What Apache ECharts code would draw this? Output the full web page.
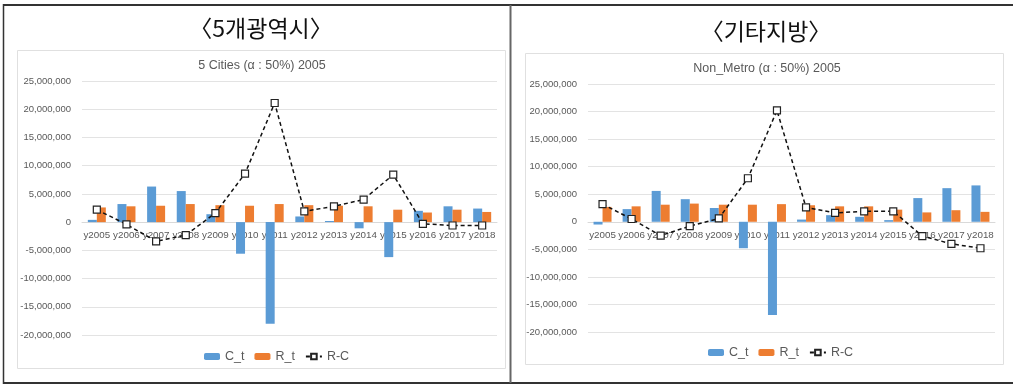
<!DOCTYPE html>
<html>
<head>
<meta charset="utf-8">
<script src="https://cdn.jsdelivr.net/npm/echarts@6/dist/echarts.min.js"></script>
<style>
html,body{margin:0;padding:0;background:#fff;}
#c{width:1013px;height:385px;}
</style>
</head>
<body>
<div id="c"></div>
<script>
const categories = ['y2005','y2006','y2007','y2008','y2009','y2010','y2011','y2012','y2013','y2014','y2015','y2016','y2017','y2018'];
const cityC = [0.4, 3.2, 6.3, 5.5, 1.4, -5.6, -18.0, 1.0, 0.2, -1.1, -6.2, 2.0, 2.8, 2.4];
const cityR = [2.6, 2.8, 2.9, 3.2, 3.0, 2.9, 3.2, 3.0, 2.9, 2.8, 2.2, 1.7, 2.2, 1.8];
const cityRC = [2.2, -0.4, -3.4, -2.3, 1.6, 8.6, 21.1, 1.9, 2.8, 4.0, 8.4, -0.3, -0.6, -0.6];
const nonC = [-0.5, 2.3, 5.6, 4.1, 2.5, -4.8, -16.9, 0.4, 1.2, 0.9, 0.3, 4.3, 6.1, 6.6];
const nonR = [2.7, 2.8, 3.1, 3.3, 3.1, 3.1, 3.2, 3.0, 2.8, 2.8, 2.2, 1.7, 2.1, 1.8];
const nonRC = [3.2, 0.5, -2.5, -0.8, 0.6, 7.9, 20.2, 2.6, 1.6, 1.9, 1.9, -2.6, -4.0, -4.8];
const headerTitles = ['〈5개광역시〉', '〈기타지방〉'];
const chartTitles = ['5 Cities (α : 50%) 2005', 'Non_Metro (α : 50%) 2005'];
const seriesNames = ['C_t', 'R_t', 'R-C'];

const M = 1000000;
const toVal = a => a.map(v => Math.round(v * M));
const fmt = v => v.toLocaleString('en-US');
const grey = '#595959';
const blue = '#5B9BD5', orange = '#ED7D31';
const font = "'Liberation Sans', Arial, sans-serif";

function yAx(i) {
  return {
    type: 'value', gridIndex: i, min: -20000000, max: 25000000, interval: 5000000,
    axisLabel: { formatter: fmt, color: grey, fontSize: 9.5, fontFamily: font, margin: 11 },
    splitLine: { lineStyle: { color: '#e3e3e3', width: 1 } },
    axisLine: { show: false }, axisTick: { show: false }
  };
}
function xAx(i, off) {
  return {
    type: 'category', gridIndex: i, data: categories, position: 'bottom', offset: off,
    axisLine: { onZero: false, lineStyle: { color: '#d9d9d9' } },
    axisTick: { show: false },
    axisLabel: { color: grey, fontSize: 9.8, fontFamily: font, margin: 8, interval: 0 }
  };
}
function ser(i, c, r, rc) {
  return [
    { name: seriesNames[0], type: 'bar', xAxisIndex: i, yAxisIndex: i, data: toVal(c), barWidth: 9, barGap: '0%',
      itemStyle: { color: blue }, z: 2 },
    { name: seriesNames[1], type: 'bar', xAxisIndex: i, yAxisIndex: i, data: toVal(r), barWidth: 9, barGap: '0%',
      itemStyle: { color: orange }, z: 2 },
    { name: seriesNames[2], type: 'line', xAxisIndex: i, yAxisIndex: i, data: toVal(rc),
      symbol: 'rect', symbolSize: 7, showAllSymbol: true,
      lineStyle: { color: '#111', width: 1.5, type: [4, 3] },
      itemStyle: { color: '#fff', borderColor: '#222', borderWidth: 1.2 }, z: 5 }
  ];
}

const chart = echarts.init(document.getElementById('c'), null, { renderer: 'canvas' });
chart.setOption({
  animation: false,
  backgroundColor: '#fff',
  title: [
    { text: headerTitles[0], left: 256, top: 12, textAlign: 'center',
      textStyle: { fontSize: 23, fontWeight: 'normal', color: '#111', fontFamily: 'Noto Sans CJK KR' } },
    { text: headerTitles[1], left: 761, top: 15, textAlign: 'center',
      textStyle: { fontSize: 23, fontWeight: 'normal', color: '#111', fontFamily: 'Noto Sans CJK KR' } },
    { text: chartTitles[0], left: 257, top: 54, textAlign: 'center',
      textStyle: { fontSize: 12.5, fontWeight: 'normal', color: grey, fontFamily: font } },
    { text: chartTitles[1], left: 762, top: 57, textAlign: 'center',
      textStyle: { fontSize: 12.5, fontWeight: 'normal', color: grey, fontFamily: font } }
  ],
  legend: [
    { data: seriesNames, left: 199, top: 345, itemWidth: 16, itemHeight: 7, itemGap: 10,
      textStyle: { color: grey, fontSize: 12.5, fontFamily: font } },
    { data: seriesNames, left: 703, top: 341, itemWidth: 16, itemHeight: 7, itemGap: 10,
      textStyle: { color: grey, fontSize: 12.5, fontFamily: font } }
  ],
  grid: [
    { left: 82, width: 415, top: 81, height: 254, containLabel: false },
    { left: 588, width: 407, top: 84, height: 248, containLabel: false }
  ],
  xAxis: [xAx(0, -113), xAx(1, -110)],
  yAxis: [yAx(0), yAx(1)],
  series: [].concat(ser(0, cityC, cityR, cityRC), ser(1, nonC, nonR, nonRC)),
  graphic: [
    { type: 'rect', shape: { x: 17.5, y: 50.5, width: 488, height: 318 }, style: { fill: 'none', stroke: '#e0e0e0', lineWidth: 1 }, z: -1 },
    { type: 'rect', shape: { x: 525.5, y: 53.5, width: 478, height: 311 }, style: { fill: 'none', stroke: '#e0e0e0', lineWidth: 1 }, z: -1 },
    { type: 'line', shape: { x1: 3, y1: 5, x2: 1013, y2: 5 }, style: { stroke: '#333', lineWidth: 2 } },
    { type: 'line', shape: { x1: 3, y1: 383, x2: 1013, y2: 383 }, style: { stroke: '#333', lineWidth: 2 } },
    { type: 'line', shape: { x1: 3.5, y1: 4, x2: 3.5, y2: 384 }, style: { stroke: '#333', lineWidth: 1.5 } },
    { type: 'line', shape: { x1: 510.5, y1: 5, x2: 510.5, y2: 383 }, style: { stroke: '#666', lineWidth: 2 } }
  ]
});
</script>
</body>
</html>
